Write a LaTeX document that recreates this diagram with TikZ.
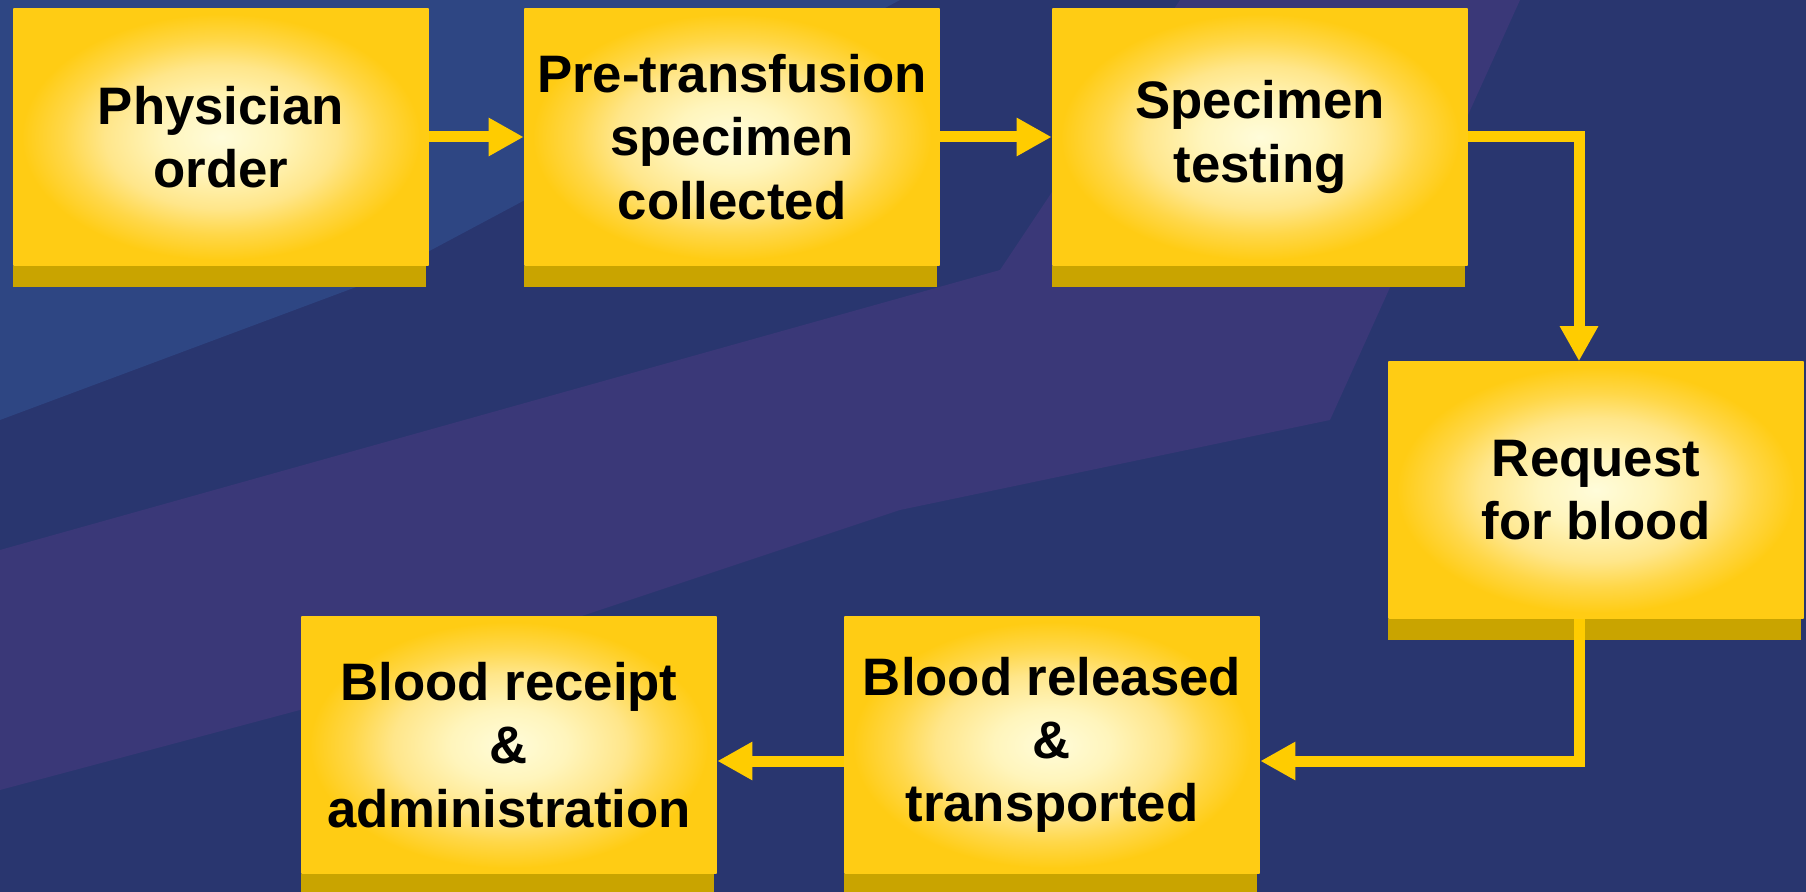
\documentclass[tikz,border=0pt]{standalone}
\usepackage{fontspec}
\setmainfont{Liberation Sans}
\usetikzlibrary{arrows.meta}
\definecolor{bgnavy}{HTML}{29366F}
\definecolor{bglight}{HTML}{2E4683}
\definecolor{bgpurple}{HTML}{3A3878}
\definecolor{flowcol}{HTML}{FFCC00}
\definecolor{dropcol}{HTML}{C9A400}
\definecolor{glowA}{HTML}{FFFCDA}
\definecolor{glowB}{HTML}{FFF5BC}
\definecolor{glowC}{HTML}{FFE68A}
\definecolor{glowD}{HTML}{FFD748}
\definecolor{glowE}{HTML}{FFCC14}
\pgfdeclareradialshading{boxglow}{\pgfpoint{0bp}{0bp}}{color(0bp)=(glowA); color(7bp)=(glowB); color(14bp)=(glowC); color(19bp)=(glowD); color(24bp)=(glowE); color(50bp)=(glowE)}
\begin{document}
\begin{tikzpicture}[x=0.01cm,y=-0.01cm,
	stepbox/.style={shading=boxglow,minimum width=4.15cm,minimum height=2.56cm,inner sep=0pt,align=center,font=\fontsize{15}{18}\selectfont\bfseries},
	flow/.style={draw=flowcol,line width=0.11cm,-{Triangle[length=0.35cm,width=0.36cm]}}]
	\useasboundingbox (0,0) rectangle (1806,892);
	% nền
	\fill[bgnavy] (0,0) rectangle (1806,892);
	\fill[bglight] (0,0) -- (900,0) -- (375,280) -- (0,420) -- cycle;
	\fill[bgpurple] (0,550) -- (1000,270) -- (1180,0) -- (1520,0) -- (1330,420) -- (900,510) -- (300,710) -- (0,790) -- cycle;
	% các bước
	\node[stepbox] (phys) at (221,137) {Physician\\order};
	\node[stepbox] (coll) at (732,137) {Pre-transfusion\\specimen\\collected};
	\node[stepbox] (test) at (1260,137) {Specimen\\testing};
	\node[stepbox] (req) at (1596,490) {Request\\for blood};
	\node[stepbox] (rel) at (1052,745) {Blood released\\\&\\transported};
	\node[stepbox] (rec) at (509,745) {Blood receipt\\\&\\administration};
	\foreach \n in {phys,coll,test,req,rel,rec}
	\fill[dropcol] (\n.south west) rectangle ([xshift=-0.03cm,yshift=-0.21cm]\n.south east);
	% mũi tên
	\draw[flow] (phys) -- (coll);
	\draw[flow] (coll) -- (test);
	\draw[flow] (test.east) -| ([xshift=-0.17cm]req.north);
	\draw[flow] ([xshift=-0.17cm]req.south) |- ([yshift=-0.16cm]rel.east);
	\draw[flow] ([yshift=-0.16cm]rel.west) -- ([yshift=-0.16cm]rec.east);
\end{tikzpicture}
\end{document}
